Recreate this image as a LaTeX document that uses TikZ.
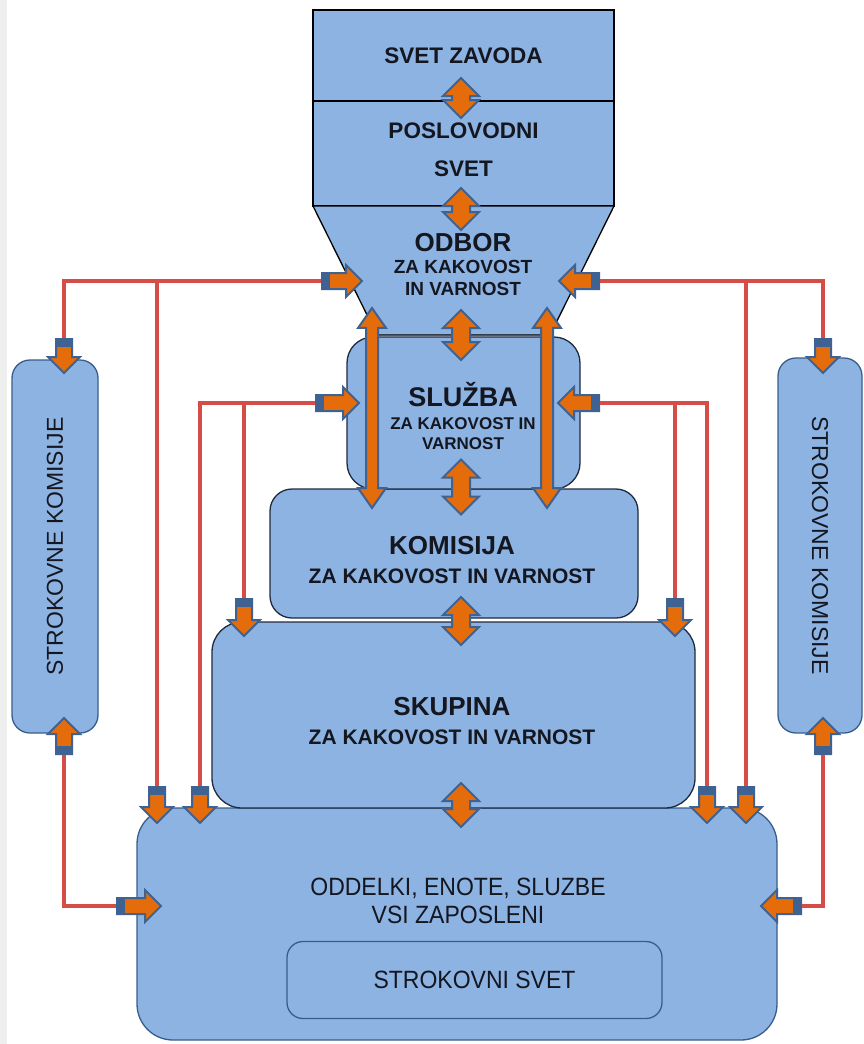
\documentclass[tikz,border=0pt]{standalone}
\usepackage{fontspec}
\setmainfont{Liberation Sans}
\newfontfamily\narrowsans[FakeStretch=0.92]{Liberation Sans}
\usepackage{tikz}
\usetikzlibrary{calc,positioning,shapes.arrows}
\definecolor{KakFill}{RGB}{141,179,226}
\definecolor{KakEdge}{RGB}{32,42,62}
\definecolor{KakSide}{RGB}{56,93,138}
\definecolor{KakOrange}{RGB}{228,108,10}
\definecolor{KakArrow}{RGB}{62,98,146}
\definecolor{KakRed}{RGB}{214,76,70}
\definecolor{KakText}{RGB}{20,22,32}
\definecolor{KakStrip}{RGB}{238,238,238}

\tikzset{
  topbox/.style={draw=black,fill=KakFill,line width=1.3pt,inner sep=0pt,text=KakText},
  qbox/.style={draw=KakEdge,fill=KakFill,line width=1.3pt,rounded corners=#1,inner sep=0pt},
  qbox/.default=24pt,
  sidebox/.style={draw=KakSide,fill=KakFill,line width=1.3pt,rounded corners=18pt,inner sep=0pt,
    text=KakText,font=\fontsize{23}{26}\selectfont},
  boxtitle/.style={text=KakText,align=center,inner sep=0pt},
  wire/.style={draw=KakRed,line width=3.2pt},
  onearrow/.style={single arrow,fill=KakOrange,draw=KakArrow,line width=2pt,inner xsep=0pt,
    inner ysep=7pt,single arrow head extend=8pt,minimum height=#1},
  twoarrow/.style={double arrow,fill=KakOrange,draw=KakArrow,line width=2pt,inner xsep=0pt,
    inner ysep=8pt,double arrow head extend=9pt,minimum height=#1},
  tailcap/.style={draw=KakArrow,line width=16pt}
}

\begin{document}
\begin{tikzpicture}[x=1pt,y=-1pt]
  \useasboundingbox (0,0) rectangle (864,1044);
  \fill[KakStrip] (0,0) rectangle (7,1044);

  % side commissions
  \node[sidebox,rotate=90,minimum width=373pt,minimum height=86pt] (komL) at (55,546.5) {STROKOVNE KOMISIJE};
  \node[sidebox,rotate=-90,minimum width=375pt,minimum height=84pt] (komR) at (820,545.5) {STROKOVNE KOMISIJE};

  % stacked bodies, bottom first
  \node[qbox=36pt,draw=KakSide,minimum width=640pt,minimum height=232pt] (oddelki) at (457,924) {};
  \node[boxtitle,font=\narrowsans\fontsize{25}{28}\selectfont] (oddelki-t) at (458,901) {ODDELKI, ENOTE, SLUZBE\\VSI ZAPOSLENI};
  \node[qbox=16pt,draw=KakSide,minimum width=375pt,minimum height=77pt,text=KakText,
        font=\narrowsans\fontsize{25}{28}\selectfont] (strokovni) at (474.5,980) {STROKOVNI SVET};

  \node[qbox=30pt,minimum width=483pt,minimum height=186pt] (skupina) at (453.5,715) {};
  \node[boxtitle,font=\bfseries\fontsize{21}{29}\selectfont] (skupina-t) at (452,721)
    {{\fontsize{26}{26}\selectfont SKUPINA}\\ZA KAKOVOST IN VARNOST};

  \node[qbox=22pt,minimum width=368pt,minimum height=129pt] (komisija) at (454,553.5) {};
  \node[boxtitle,font=\bfseries\fontsize{21}{29}\selectfont] (komisija-t) at (452,560.5)
    {{\fontsize{26}{26}\selectfont KOMISIJA}\\ZA KAKOVOST IN VARNOST};

  \node[qbox=26pt,minimum width=233pt,minimum height=152pt] (sluzba) at (463.5,413) {};
  \node[boxtitle,font=\bfseries\fontsize{17}{20.5}\selectfont] (sluzba-t) at (463,416)
    {{\fontsize{27}{27}\selectfont SLUŽBA}\\[2pt]ZA KAKOVOST IN\\VARNOST};

  % management on top
  \node[topbox,minimum width=301pt,minimum height=91pt,font=\bfseries\fontsize{22.5}{27}\selectfont] (zavod) at (463.5,55.5) {SVET ZAVODA};
  \node[topbox,minimum width=301pt,minimum height=105pt] (poslovodni) at (463.5,153.5) {};
  \node[boxtitle,font=\bfseries\fontsize{22.5}{38.5}\selectfont] (poslovodni-t) at (463.5,150) {POSLOVODNI\\SVET};
  \draw[topbox] (313,206) -- (614,206) -- (550,335) -- (377,335) -- cycle;
  \node[boxtitle,font=\bfseries\fontsize{19}{22}\selectfont] (odbor) at (463,265)
    {{\fontsize{26}{26}\selectfont ODBOR}\\ZA KAKOVOST\\IN VARNOST};

  % arrows into the bodies
  \node[onearrow=40pt] (oL) at (338,281) {};
  \node[onearrow=40pt,rotate=180] (oR) at (583,281) {};
  \node[onearrow=43pt] (sbL) at (333.5,403) {};
  \node[onearrow=41pt,rotate=180] (sbR) at (582.5,403) {};
  \node[onearrow=34pt,rotate=-90] (kL1) at (64,352) {};
  \node[onearrow=34pt,rotate=-90] (kR1) at (823,352) {};
  \node[onearrow=36pt,rotate=90] (kL2) at (64,740) {};
  \node[onearrow=36pt,rotate=90] (kR2) at (823,740) {};
  \node[onearrow=44pt] (eL) at (135,906) {};
  \node[onearrow=40pt,rotate=180] (eR) at (785,906) {};
  \foreach \n/\x in {dL1/157,dL2/200,dR1/707,dR2/746}
    \node[onearrow=36pt,rotate=-90] (\n) at (\x,801) {};
  \node[onearrow=37pt,rotate=-90] (sL) at (244,613.5) {};
  \node[onearrow=37pt,rotate=-90] (sR) at (675,613.5) {};

  % red lines
  \draw[wire] (kL1.tail) |- (oL.tail);
  \draw[wire] (dL1.tail) -- (dL1.tail |- oL.tail);
  \draw[wire] (dL2.tail) |- (sbL.tail);
  \draw[wire] (sL.tail) -- (sL.tail |- sbL.tail);
  \draw[wire] (kL2.tail) |- (eL.tail);
  \draw[wire] (kR1.tail) |- (oR.tail);
  \draw[wire] (dR2.tail) -- (dR2.tail |- oR.tail);
  \draw[wire] (dR1.tail) |- (sbR.tail);
  \draw[wire] (sR.tail) -- (sR.tail |- sbR.tail);
  \draw[wire] (kR2.tail) |- (eR.tail);

  \foreach \a in {oL,oR,sbL,sbR,kL1,kR1,kL2,kR2,eL,eR,dL1,dL2,dR1,dR2,sL,sR}
    \draw[tailcap] (\a.tail) -- ($(\a.tail)!9pt!(\a.tip)$);

  % double arrows along the spine
  \foreach \n/\y/\l in {z1/98/40,z2/209/42,z3/335/50,z4/487/55,z5/621/48,z6/805/44}
    \node[twoarrow=\l pt,rotate=90] (\n) at (461,\y) {};
  \node[twoarrow=200pt,rotate=90,inner ysep=5pt,double arrow head extend=8pt,double arrow tip angle=70] (longL) at (372,408) {};
  \node[twoarrow=200pt,rotate=90,inner ysep=5pt,double arrow head extend=8pt,double arrow tip angle=70] (longR) at (547,408) {};
\end{tikzpicture}
\end{document}
